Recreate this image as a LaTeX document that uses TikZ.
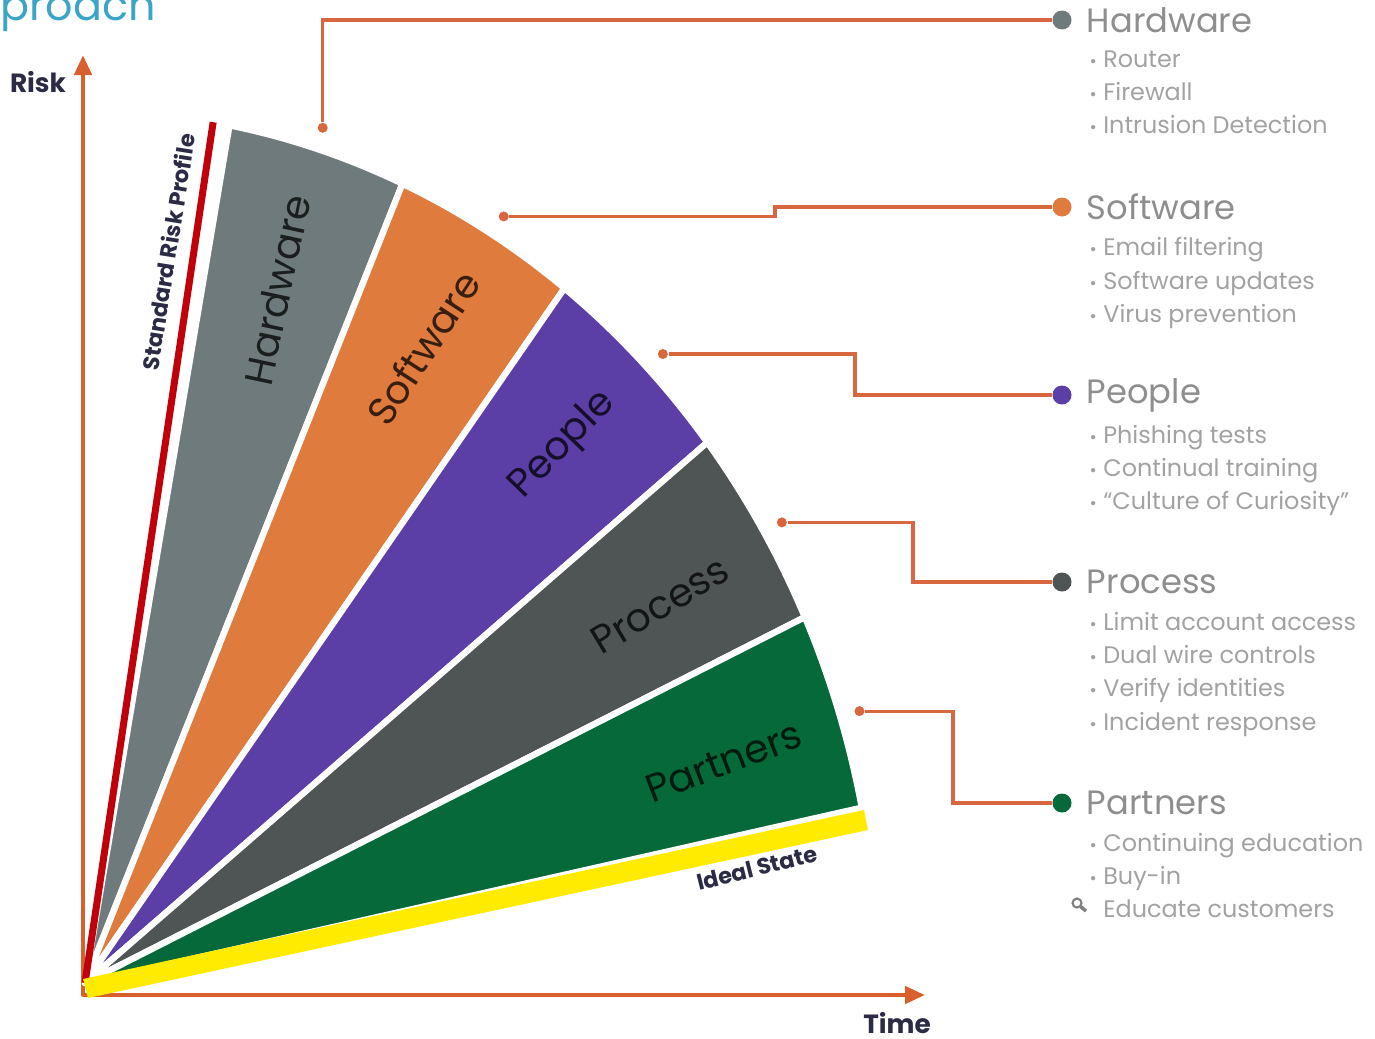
\documentclass[tikz,border=0pt]{standalone}
\usepackage{fontspec}
\setmainfont{Poppins}
\usetikzlibrary{arrows.meta,calc}

\definecolor{hwgray}{HTML}{6F7A7C}
\definecolor{sworange}{HTML}{E07B3E}
\definecolor{pppurple}{HTML}{5B3EA6}
\definecolor{prgray}{HTML}{4F5455}
\definecolor{ptgreen}{HTML}{05693A}
\definecolor{idealyellow}{HTML}{FFEB00}
\definecolor{riskred}{HTML}{C0000A}
\definecolor{axisorange}{HTML}{D8602C}
\definecolor{linkorange}{HTML}{D8663E}
\definecolor{titlegray}{HTML}{8E8E8E}
\definecolor{itemgray}{HTML}{A2A2A2}
\definecolor{navytext}{HTML}{2B2B45}
\definecolor{headblue}{HTML}{3AA5C6}

\begin{document}
\begin{tikzpicture}[
    font=\small,
    sector/.style={draw=white, line width=1.8pt, line join=round},
    seclabel/.style={text=black, text opacity=0.75, font=\fontsize{11.2}{13}\selectfont},
    axis/.style={draw=axisorange, line width=1.3pt, line join=round},
    link/.style={draw=linkorange, line width=0.9pt},
    tipdot/.style={circle, fill=linkorange, inner sep=0pt, minimum size=0.1cm},
    enddot/.style={circle, inner sep=0pt, minimum size=0.19cm},
    title/.style={anchor=west, inner sep=0pt, text=titlegray, font=\fontsize{9.6}{11}\selectfont},
    items/.style={anchor=north west, inner sep=0pt, align=left, text=itemgray, font=\fontsize{6.8}{9.4}\selectfont},
    axislbl/.style={text=navytext, font=\bfseries\fontsize{7.5}{9}\selectfont}
]
    \useasboundingbox (-0.85,-0.55) rectangle (12.90,9.83);

    % --- Cut-off heading ---
    \node[anchor=base west, inner sep=0pt, text=headblue, font=\fontsize{12.2}{14}\selectfont] (head) at (-0.85,9.63) {proach};

    % --- Axes ---
    \coordinate (ytip) at (-0.02,9.28);
    \coordinate (corner) at (-0.02,-0.12);
    \coordinate (xtip) at (8.40,-0.12);
    \draw[axis, {Triangle[length=0.2cm,width=0.17cm]}-{Triangle[length=0.2cm,width=0.17cm]}] (ytip) -- (corner) -- (xtip);
    \node[axislbl] (risk) at (-0.47,9.01) {Risk};
    \node[axislbl] (time) at (8.12,-0.40) {Time};

    % --- Fan of layers ---
    \begin{scope}[yscale=1.1]
        \fill[hwgray, sector] (0,0) -- (79.5:7.93) arc[start angle=79.5, end angle=66.4, radius=7.93] -- cycle;
        \fill[sworange, sector] (0,0) -- (66.4:7.93) arc[start angle=66.4, end angle=52.8, radius=7.93] -- cycle;
        \fill[pppurple, sector] (0,0) -- (52.8:7.93) arc[start angle=52.8, end angle=38.3, radius=7.93] -- cycle;
        \fill[prgray, sector] (0,0) -- (38.3:7.93) arc[start angle=38.3, end angle=24.8, radius=7.93] -- cycle;
        \fill[ptgreen, sector] (0,0) -- (24.8:7.93) arc[start angle=24.8, end angle=11.6, radius=7.93] -- cycle;
        \draw[riskred, line width=2pt] (0,0) -- (80.7:7.93);

        % leader start points
        \node[tipdot] (hwtip) at (73.0:8.13) {};
        \node[tipdot] (swtip) at (59.0:8.13) {};
        \node[tipdot] (pptip) at (44.7:8.13) {};
        \node[tipdot] (prtip) at (31.0:8.13) {};
        \node[tipdot] (pttip) at (17.7:8.13) {};
    \end{scope}
    \fill[idealyellow] (-0.02,0.04) -- (7.79,1.73) -- (7.83,1.53) -- (0.03,-0.15) -- cycle;

    % --- Labels on the fan ---
    \node[seclabel, rotate=78] (hwlbl) at (1.92,6.93) {Hardware};
    \node[seclabel, rotate=57] (swlbl) at (3.38,6.35) {Software};
    \node[seclabel, rotate=46] (pplbl) at (4.78,5.38) {People};
    \node[seclabel, rotate=31] (prlbl) at (5.75,3.78) {Process};
    \node[seclabel, rotate=21] (ptlbl) at (6.39,2.21) {Partners};
    \node[axislbl, font=\bfseries\fontsize{6.4}{8}\selectfont, rotate=81] (srp) at (0.83,7.31) {Standard Risk Profile};
    \node[axislbl, font=\bfseries\fontsize{6.4}{8}\selectfont, rotate=14] (ideal) at (6.72,1.15) {Ideal State};

    % --- Legend dots ---
    \node[enddot, fill=hwgray] (hwdot) at (9.77,9.63) {};
    \node[enddot, fill=sworange] (swdot) at (9.77,7.76) {};
    \node[enddot, fill=pppurple] (ppdot) at (9.77,5.88) {};
    \node[enddot, fill=prgray] (prdot) at (9.77,4.01) {};
    \node[enddot, fill=ptgreen] (ptdot) at (9.77,1.80) {};

    % --- Leaders ---
    \coordinate (swbend) at (6.90,0);
    \coordinate (ppbend) at (7.70,0);
    \coordinate (prbend) at (8.28,0);
    \coordinate (ptbend) at (8.68,0);
    \draw[link] (hwtip) |- (hwdot);
    \draw[link] (swtip) -- (swtip -| swbend) |- (swdot);
    \draw[link] (pptip) -- (pptip -| ppbend) |- (ppdot);
    \draw[link] (prtip) -- (prtip -| prbend) |- (prdot);
    \draw[link] (pttip) -- (pttip -| ptbend) |- (ptdot);

    % --- Legend texts ---
    \node[title, xshift=0.14cm] (hwtitle) at (hwdot.east) {Hardware};
    \node[title, xshift=0.14cm] (swtitle) at (swdot.east) {Software};
    \node[title, xshift=0.14cm] (pptitle) at (ppdot.east) {People};
    \node[title, xshift=0.14cm] (prtitle) at (prdot.east) {Process};
    \node[title, xshift=0.14cm] (pttitle) at (ptdot.east) {Partners};

    \node[items] (hwitems) at ($(hwdot)+(0.27,-0.30)$) {{\tiny•} Router\\{\tiny•} Firewall\\{\tiny•} Intrusion Detection};
    \node[items] (switems) at ($(swdot)+(0.27,-0.30)$) {{\tiny•} Email filtering\\{\tiny•} Software updates\\{\tiny•} Virus prevention};
    \node[items] (ppitems) at ($(ppdot)+(0.27,-0.30)$) {{\tiny•} Phishing tests\\{\tiny•} Continual training\\{\tiny•} “Culture of Curiosity”};
    \node[items] (pritems) at ($(prdot)+(0.27,-0.30)$) {{\tiny•} Limit account access\\{\tiny•} Dual wire controls\\{\tiny•} Verify identities\\{\tiny•} Incident response};
    \node[items] (ptitems) at ($(ptdot)+(0.27,-0.30)$) {{\tiny•} Continuing education\\{\tiny•} Buy-in\\{\tiny\phantom{•}} Educate customers};

    % magnifier cursor
    \draw[gray, line width=0.6pt] (9.92,0.80) circle (0.045);
    \draw[gray, line width=1pt] (9.955,0.765) -- (10.01,0.72);

\end{tikzpicture}
\end{document}
